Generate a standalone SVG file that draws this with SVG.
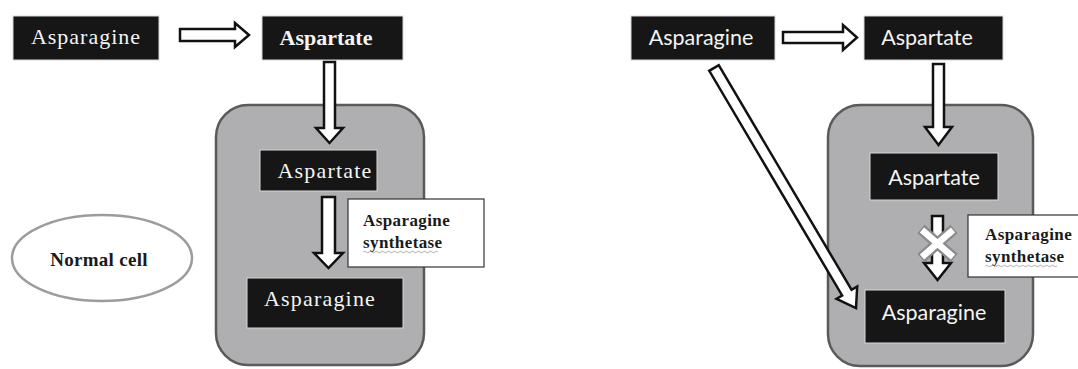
<svg xmlns="http://www.w3.org/2000/svg" width="1078" height="369" viewBox="0 0 1078 369">
  <style>
    .cell { fill: #afafb1; stroke: #5a5a5a; stroke-width: 2.5; }
    .box { fill: #161616; stroke: #d8d8d8; stroke-width: 1; }
    .label { fill: #ffffff; stroke: #333333; stroke-width: 1.2; }
    .arrow { fill: #ffffff; stroke: #111111; stroke-width: 2.5; stroke-linejoin: miter; }
    .serif { font-family: "Liberation Serif", "Times New Roman", serif; }
    .sans { font-family: Lato, "Open Sans", "Liberation Sans", sans-serif; }
    .boxtext { fill: #f4f4f4; font-size: 22px; text-anchor: middle; }
    .sanstext { fill: #f4f4f4; font-size: 21.5px; text-anchor: middle; }
    .enz { fill: #1a1a1a; font-size: 17px; font-weight: bold; letter-spacing: 0.4px; }
  </style>

  <!-- ===== Left panel: normal cell ===== -->
  <g id="left-cell">
    <rect class="cell" x="216" y="105" width="208" height="260" rx="32" ry="32"/>
  </g>

  <g id="left-asparagine-out">
    <rect class="box" x="13" y="16" width="146" height="44"/>
    <text class="serif boxtext" x="86" y="44" letter-spacing="1">Asparagine</text>
  </g>

  <g id="left-aspartate-out">
    <rect class="box" x="262" y="16" width="141" height="44"/>
    <text class="serif boxtext" x="326" y="45" font-weight="bold">Aspartate</text>
  </g>

  <g id="left-aspartate-in">
    <rect class="box" x="260" y="150" width="117" height="41"/>
    <text class="serif boxtext" x="325" y="178" letter-spacing="1.2">Aspartate</text>
  </g>

  <g id="left-asparagine-in">
    <rect class="box" x="247" y="278" width="156" height="50"/>
    <text class="serif boxtext" x="320" y="306" letter-spacing="1.2">Asparagine</text>
  </g>

  <g id="left-enzyme">
    <rect class="label" x="348" y="199" width="136" height="68"/>
    <text class="serif enz" x="363" y="226">Asparagine</text>
    <text class="serif enz" x="363" y="248">synthetase</text>
    <path d="M363,252 q1.5,-1.5 3,0 t3,0 t3,0 t3,0 t3,0 t3,0 t3,0 t3,0 t3,0 t3,0 t3,0 t3,0 t3,0 t3,0 t3,0 t3,0 t3,0 t3,0 t3,0 t3,0 t3,0 t3,0 t3,0 t3,0 t3,0" fill="none" stroke="#9a9a9a" stroke-width="0.8"/>
  </g>

  <g id="normal-cell-tag">
    <ellipse cx="102" cy="258" rx="90" ry="43" fill="#ffffff" stroke="#9c9c9c" stroke-width="2.5"/>
    <text class="serif" x="99" y="266" font-size="19" font-weight="bold" fill="#1a1a1a" text-anchor="middle" letter-spacing="0.3">Normal cell</text>
  </g>

  <!-- ===== Right panel: cell lacking the synthetase ===== -->
  <g id="right-cell">
    <rect class="cell" x="828" y="105" width="205" height="261" rx="32" ry="32"/>
  </g>

  <g id="right-asparagine-out">
    <rect class="box" x="631" y="16" width="144" height="44"/>
    <text class="sans sanstext" x="701" y="45">Asparagine</text>
  </g>

  <g id="right-aspartate-out">
    <rect class="box" x="864" y="16" width="139" height="44"/>
    <text class="sans sanstext" x="927" y="45">Aspartate</text>
  </g>

  <g id="right-aspartate-in">
    <rect class="box" x="870" y="153" width="128" height="47"/>
    <text class="sans sanstext" x="934" y="185">Aspartate</text>
  </g>

  <g id="right-asparagine-in">
    <rect class="box" x="865" y="290" width="140" height="53"/>
    <text class="sans sanstext" x="934" y="320">Asparagine</text>
  </g>

  <g id="right-enzyme">
    <rect class="label" x="968" y="215" width="112" height="62"/>
    <text class="serif enz" x="985" y="240">Asparagine</text>
    <text class="serif enz" x="985" y="262">synthetase</text>
    <path d="M985,266 q1.5,-1.5 3,0 t3,0 t3,0 t3,0 t3,0 t3,0 t3,0 t3,0 t3,0 t3,0 t3,0 t3,0 t3,0 t3,0 t3,0 t3,0 t3,0 t3,0 t3,0 t3,0 t3,0 t3,0 t3,0 t3,0" fill="none" stroke="#9a9a9a" stroke-width="0.8"/>
  </g>

  <!-- ===== Connectors: hollow block arrows ===== -->
  <g id="connectors">
    <!-- left: Asparagine -> Aspartate -->
    <polygon class="arrow" points="180,29 235,29 235,23 249,35 235,47 235,41 180,41"/>
    <!-- left: Aspartate into the cell -->
    <polygon class="arrow" points="324,62 335,62 335,128 343,128 329.5,143 316,128 324,128"/>
    <!-- left: Aspartate -> Asparagine (synthetase) -->
    <polygon class="arrow" points="322,197 335,197 335,253 343,253 328.5,268 314,253 322,253"/>

    <!-- right: Asparagine -> Aspartate -->
    <polygon class="arrow" points="783,32 843,32 843,25 857,37.5 843,50 843,43 783,43"/>
    <!-- right: Aspartate into the cell -->
    <polygon class="arrow" points="933,64 944,64 944,127 952,127 938.5,145 925,127 933,127"/>
    <!-- right: blocked synthetase step -->
    <polygon class="arrow" points="932,216 943,216 943,263 951,263 937.5,280 924,263 932,263"/>
    <!-- right: extracellular Asparagine straight into the cell -->
    <g transform="translate(714,68) rotate(59.4)">
      <polygon class="arrow" points="0,-5.5 261,-5.5 261,-12 279,0 261,12 261,5.5 0,5.5"/>
    </g>
    <!-- cross marking the missing enzyme -->
    <g id="block-mark">
      <path d="M921,229 L954,258 M954,229 L921,258" stroke="#8a8a8a" stroke-width="11" stroke-linecap="butt"/>
      <path d="M922,230 L953,257 M953,230 L922,257" stroke="#ffffff" stroke-width="6.5" stroke-linecap="butt"/>
    </g>
  </g>
</svg>
